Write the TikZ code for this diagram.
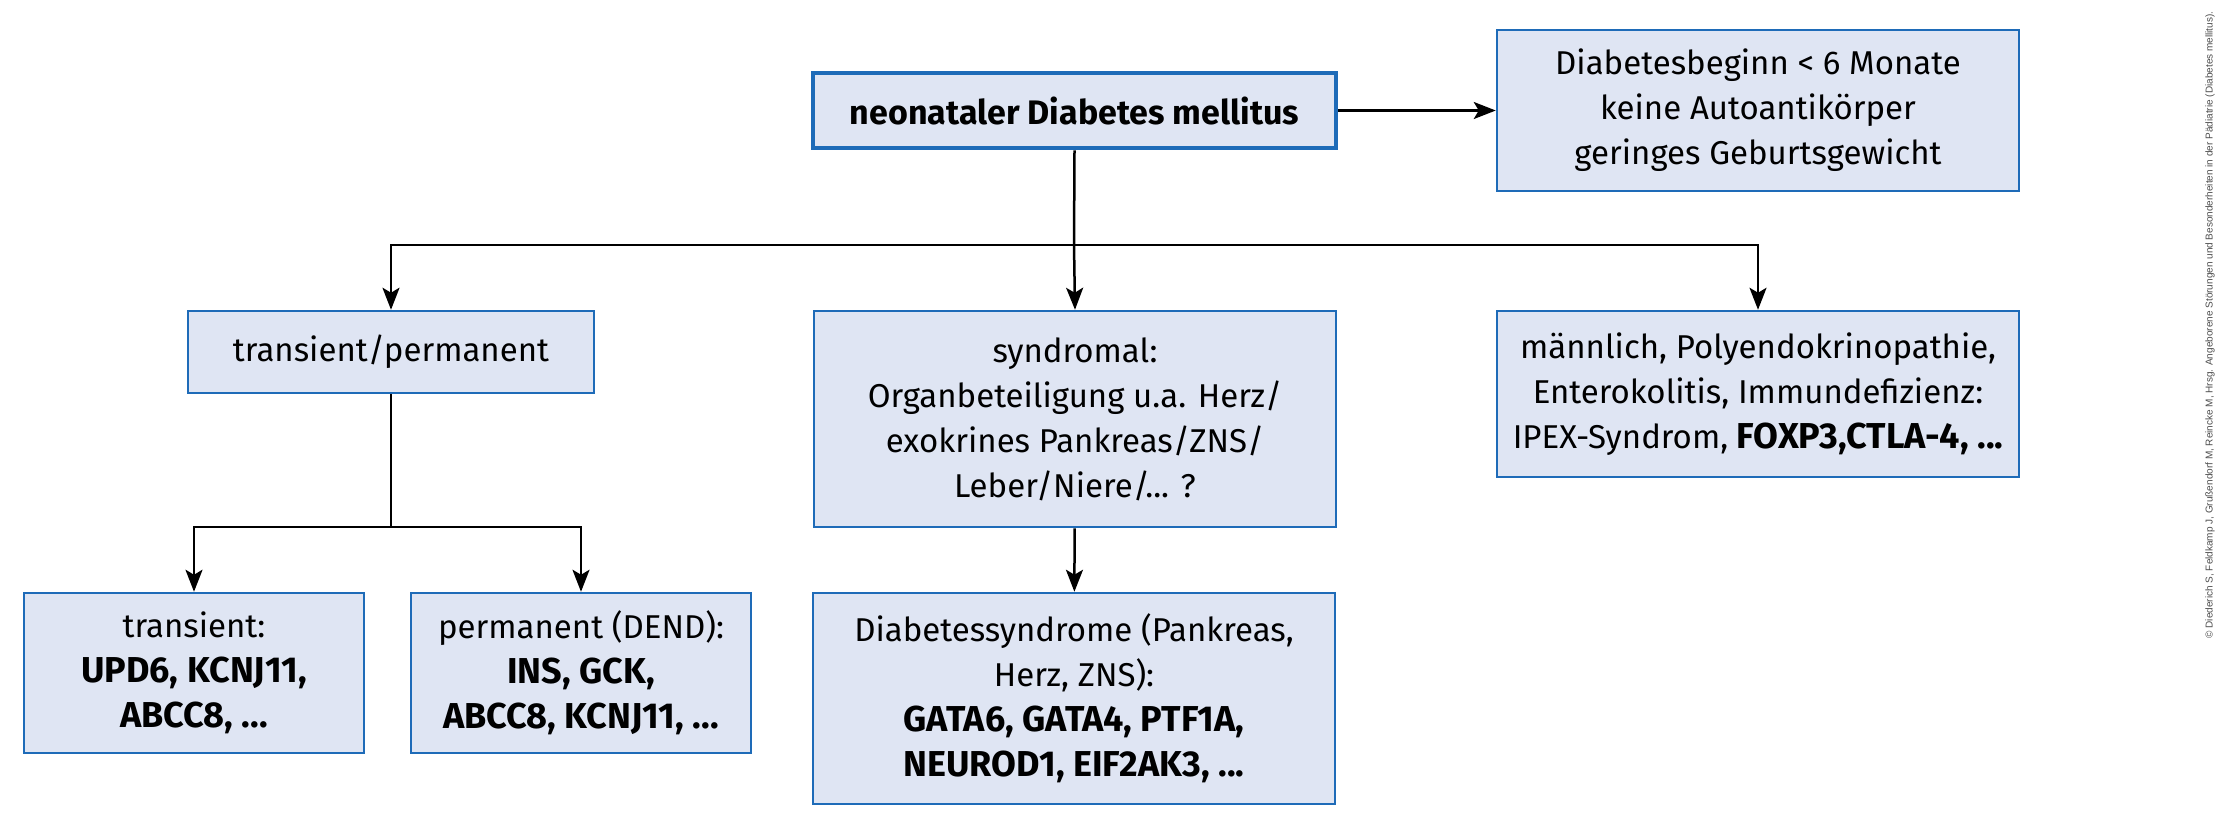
\documentclass[tikz,border=0pt]{standalone}
\usepackage{fontspec}
\setmainfont{Fira Sans}
\newfontfamily\copyfont{Liberation Sans}
\usetikzlibrary{arrows.meta,positioning}

\definecolor{boxfill}{HTML}{DFE5F3}
\definecolor{boxline}{HTML}{1E6BB8}

\newcommand{\gen}[1]{{\fontsize{36}{45}\selectfont\bfseries #1}}

\tikzset{
  box/.style={draw=boxline, fill=boxfill, line width=2.5pt, align=center, inner sep=0pt,
    font=\fontsize{33}{45}\selectfont},
  mainbox/.style={box, line width=4.5pt, font=\fontsize{34}{45}\selectfont\bfseries},
  arr/.style={->, line width=2.5pt},
  conn/.style={line width=2.5pt}
}

\begin{document}
\begin{tikzpicture}[x=1pt, y=-1pt, >={Stealth[length=22pt,width=17pt,inset=5pt]}]
  \useasboundingbox (0,0) rectangle (2218,831);

  % obere Zeile
  \node[mainbox, minimum width=523, minimum height=75] (neo) at (1074.5,110.5) {neonataler Diabetes mellitus};
  \node[box, minimum width=522, minimum height=161] (info) at (1758,110.5)
    {Diabetesbeginn < 6 Monate\\ keine Autoantikörper\\ geringes Geburtsgewicht};
  \draw[arr] (neo) -- (info);

  % zweite Ebene
  \node[box, minimum width=406, minimum height=82] (tp) at (391,352) {transient/permanent};
  \node[box, minimum width=522, minimum height=216] (synd) at (1075,419)
    {syndromal:\\ Organbeteiligung u.a. Herz/\\ exokrines Pankreas/ZNS/\\ Leber/Niere/... ?};
  \node[box, minimum width=522, minimum height=166] (maenn) at (1758,394)
    {männlich, Polyendokrinopathie,\\ Enterokolitis, Immundefizienz:\\ IPEX-Syndrom, \gen{FOXP3,CTLA-4, ...}};
  \coordinate (fork) at (1074,245);
  \draw[conn] (neo.south) -- (fork);
  \draw[arr] (fork) -| (tp.north);
  \draw[arr] (fork) -- (synd.north);
  \draw[arr] (fork) -| (maenn.north);

  % untere Ebene
  \node[box, minimum width=340, minimum height=160] (trans) at (194,673)
    {transient:\\ \gen{UPD6, KCNJ11,}\\ \gen{ABCC8, ...}};
  \node[box, minimum width=340, minimum height=160] (perm) at (581,673)
    {permanent (DEND):\\ \gen{INS, GCK,}\\ \gen{ABCC8, KCNJ11, ...}};
  \node[box, minimum width=522, minimum height=211] (dsyn) at (1074,698.5)
    {Diabetessyndrome (Pankreas,\\ Herz, ZNS):\\ \gen{GATA6, GATA4, PTF1A,}\\ \gen{NEUROD1, EIF2AK3, ...}};
  \coordinate (fork2) at (391,527);
  \draw[conn] (tp.south) -- (fork2);
  \draw[arr] (fork2) -| (trans.north);
  \draw[arr] (fork2) -| (perm.north);
  \draw[arr] (synd) -- (dsyn);

  % Quellenangabe
  \node[rotate=90, text=black!70, font=\copyfont\fontsize{10}{12}\selectfont, inner sep=0pt] (quelle) at (2210,325)
    {© Diederich S, Feldkamp J, Grußendorf M, Reincke M, Hrsg. Angeborene Störungen und Besonderheiten in der Pädiatrie (Diabetes mellitus).};
\end{tikzpicture}
\end{document}
